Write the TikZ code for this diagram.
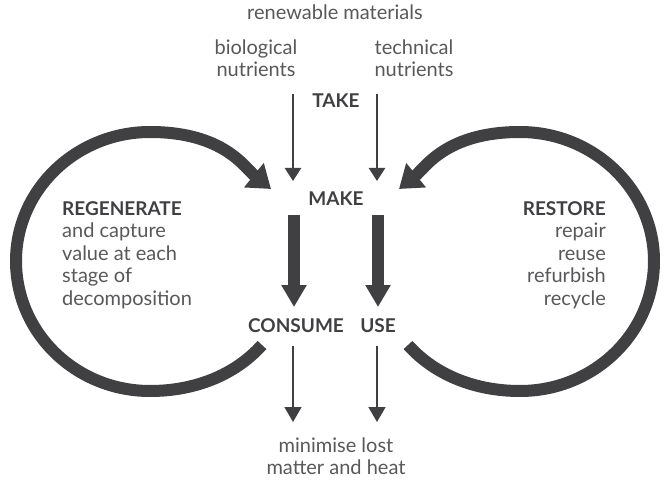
\documentclass[tikz,border=0pt]{standalone}
\usepackage{fontspec}
\setmainfont{Lato}
\usetikzlibrary{arrows.meta}
\definecolor{ink}{HTML}{404043}
\definecolor{txt}{HTML}{58585A}
\begin{document}
\begin{tikzpicture}[x=1pt,y=-1pt,
  lbl/.style={text=txt,font=\fontsize{20}{22.5}\selectfont,inner sep=0pt,align=center},
  hdr/.style={text=ink,font=\fontsize{19}{22.5}\selectfont\bfseries,inner sep=0pt},
  loopline/.style={draw=ink,line width=12pt,-{Triangle[width=30pt,length=22pt]}},
  bigarrow/.style={draw=ink,line width=12pt,-{Triangle[width=24pt,length=22pt]}},
  feed/.style={draw=ink,line width=2.5pt,-{Triangle[width=16pt,length=13pt]}},
  lossarrow/.style={draw=ink,line width=1.5pt,-{Triangle[width=17pt,length=15pt]}}]
\path[use as bounding box] (0,0) rectangle (670,484);

% texts
\node[lbl] (renew) at (335,12) {renewable materials};
\node[lbl] (bio) at (256,58) {biological\\nutrients};
\node[lbl] (tech) at (414,58) {technical\\nutrients};
\node[hdr] (take) at (336,101) {TAKE};
\node[hdr] (make) at (336,199) {MAKE};
\node[hdr] (consume) at (296,326) {CONSUME};
\node[hdr] (use) at (378,326) {USE};
\node[lbl] (loss) at (336,456) {minimise lost\\matter and heat};
\node[lbl,align=left,anchor=north west] (regen) at (62,201)
  {\textcolor{ink}{\fontsize{19}{22.5}\selectfont\bfseries REGENERATE}\\and capture\\value at each\\stage of\\decomposition};
\node[lbl,align=right,anchor=north east] (restore) at (606,201)
  {\textcolor{ink}{\fontsize{19}{22.5}\selectfont\bfseries RESTORE}\\repair\\reuse\\refurbish\\recycle};

% arrow end points
\coordinate (bioS) at (293,94);  \coordinate (bioE) at (293,181);
\coordinate (techS) at (377,94); \coordinate (techE) at (377,181);
\coordinate (mkL) at (294,215);  \coordinate (coL) at (294,307);
\coordinate (mkR) at (378,215);  \coordinate (coR) at (378,307);
\coordinate (lossLS) at (293,346); \coordinate (lossLE) at (293,422);
\coordinate (lossRS) at (377,346); \coordinate (lossRE) at (377,422);
\coordinate (regS) at (262,345); \coordinate (regE) at (271,189);
\coordinate (resS) at (408,345); \coordinate (resE) at (399,189);

\draw[feed] (bioS) -- (bioE);
\draw[feed] (techS) -- (techE);
\draw[bigarrow] (mkL) -- (coL);
\draw[bigarrow] (mkR) -- (coR);
\draw[lossarrow] (lossLS) -- (lossLE);
\draw[lossarrow] (lossRS) -- (lossRE);

\draw[loopline] (regS) .. controls (235,375) and (195,391) .. (150,391)
  .. controls (76,391) and (16,333) .. (16,261)
  .. controls (16,190) and (76,132) .. (150,132)
  .. controls (224,132) and (245,168) .. (regE);
\draw[loopline] (resS) .. controls (435,375) and (475,391) .. (520,391)
  .. controls (594,391) and (654,333) .. (654,261)
  .. controls (654,190) and (594,132) .. (520,132)
  .. controls (446,132) and (425,168) .. (resE);
\end{tikzpicture}
\end{document}
